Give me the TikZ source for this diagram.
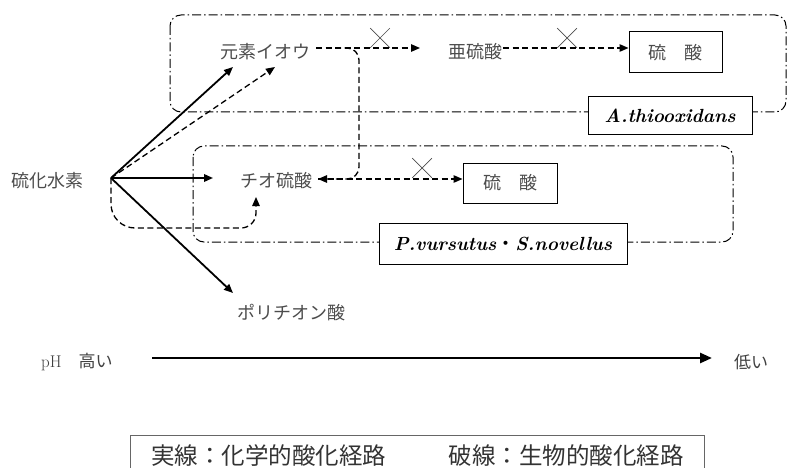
\documentclass[tikz,border=0pt]{standalone}
\usepackage{fontspec}
\newfontfamily\jp{Noto Sans CJK JP}
\usetikzlibrary{arrows.meta,shapes.misc}
\begin{document}
\begin{tikzpicture}[x=1pt,y=-1pt,
  lbl/.style={font=\jp\fontsize{18}{20}\selectfont, text=black!70, inner sep=1pt},
  chem/.style={-{Triangle[length=9pt,width=7.5pt]}, line width=1.8pt},
  bio/.style={-{Triangle[length=9pt,width=7.5pt]}, line width=1.3pt, dash pattern=on 6pt off 3.5pt},
  group/.style={line width=1pt, dash pattern=on 9pt off 3pt on 1.5pt off 3pt, rounded corners=11pt},
  acidbox/.style={draw, line width=1pt, fill=white, font=\jp\fontsize{18}{20}\selectfont, text=black!70, inner sep=0pt},
  orgbox/.style={draw, line width=1pt, fill=white, font=\bfseries\itshape\fontsize{19}{21}\selectfont, inner sep=0pt},
  nox/.style={cross out, draw=black!70, line width=0.7pt, minimum width=19pt, minimum height=19pt, inner sep=0pt}
]
\useasboundingbox (0,0) rectangle (787,468);

% group boxes (dash-dot)
\draw[group] (170,15) rectangle (786,112);
\draw[group] (193,146) rectangle (733,242);

% labels
\node[lbl] (h2s) at (47,181) {硫化水素};
\node[lbl] (s0) at (265,52) {元素イオウ};
\node[lbl] (so3) at (475,52) {亜硫酸};
\node[lbl] (thio) at (276.5,181) {チオ硫酸};
\node[lbl] (poly) at (291,313) {ポリチオン酸};

\node[acidbox, minimum width=93pt, minimum height=41pt] (so4a) at (675.5,52.5) {硫　酸};
\node[acidbox, minimum width=94pt, minimum height=40pt] (so4b) at (510,183) {硫　酸};

\node[orgbox, minimum width=164pt, minimum height=38pt] (ath) at (670,116) {A.thiooxidans};
\node[orgbox, minimum width=248pt, minimum height=41pt] (pv) at (503,243.5) {P.vursutus{\mdseries\upshape\jp ・}S.novellus};

% crosses
\node[nox] (x1) at (380,38) {};
\node[nox] (x2) at (567,38) {};
\node[nox] (x3) at (422,168) {};

% coordinates
\coordinate (o) at (111,178);
\coordinate (tS0c) at (233,67);
\coordinate (tS0b) at (275,67);
\coordinate (tThio) at (213,178);
\coordinate (tPoly) at (233,293);
\coordinate (s0r) at (316,48);
\coordinate (tSO3) at (420,48);
\coordinate (so3r) at (503,48);
\coordinate (brA) at (335,48);
\coordinate (brB) at (359,48);
\coordinate (brC) at (359,179);
\coordinate (thR) at (318,179);
\coordinate (thB) at (256,197);
\coordinate (lpA) at (111,228);
\coordinate (lpB) at (256,228);

% chemical (solid) paths
\draw[chem] (o) -- (tS0c);
\draw[chem] (o) -- (tThio);
\draw[chem] (o) -- (tPoly);

% biological (dashed) paths
\draw[bio] (o) -- (tS0b);
\draw[bio] (s0r) -- (tSO3);
\draw[bio] (so3r) -- (so4a.west |- so3r);
\draw[bio] (brA) [rounded corners=12pt] -- (brB) -- (brC) [sharp corners] -- (thR);
\draw[bio] (thR) -- (so4b.west |- thR);
\draw[bio] (o) [rounded corners=24pt] -- (lpA) [rounded corners=15pt] -- (lpB) [sharp corners] -- (thB);

% pH axis
\node[anchor=west, inner sep=0pt, text=black!75] (phh) at (41,362) {\fontsize{17}{19}\selectfont pH\hspace{17pt}{\jp\fontsize{17}{19}\selectfont 高い}};
\node[inner sep=0pt, text=black!75, font=\jp\fontsize{17}{19}\selectfont] (phl) at (751,362) {低い};
\coordinate (pA) at (152,358);
\coordinate (pB) at (712,358);
\draw[line width=2.6pt, -{Triangle[length=12pt,width=10pt]}] (pA) -- (pB);

% legend
\node[minimum width=573pt, minimum height=32pt, inner sep=0pt] (legbox) at (417.5,452) {};
\node[font=\jp\fontsize{23.5}{26}\selectfont, text=black!80, inner sep=0pt] (legtxt) at (417.5,456) {実線：化学的酸化経路\hspace{63pt}破線：生物的酸化経路};
\draw[line width=0.8pt, black!60] (legbox.south west) |- (legbox.north east) -- (legbox.south east);
\end{tikzpicture}
\end{document}
